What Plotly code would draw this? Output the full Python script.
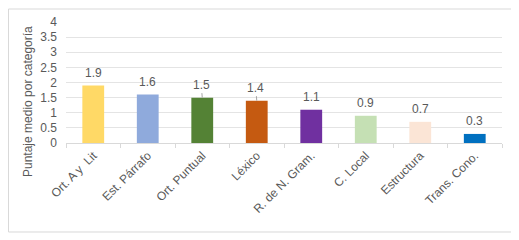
import plotly.graph_objects as go

categories = ["Ort. A y  Lit", "Est. Párrafo", "Ort. Puntual", "Léxico",
              "R. de N. Gram.", "C. Local", "Estructura", "Trans. Cono."]
values = [1.9, 1.6, 1.5, 1.4, 1.1, 0.9, 0.7, 0.3]
leader = [False, False, True, True, False, False, False, False]
colors = ["#FFD966", "#8FAADC", "#548235", "#C55A11",
          "#7030A0", "#C5E0B4", "#FBE5D6", "#0070C0"]
yticks = [0, 0.5, 1, 1.5, 2, 2.5, 3, 3.5, 4]

font = "Liberation Sans, Arial, sans-serif"
gray = "#595959"

fig = go.Figure(go.Bar(
    x=categories, y=values, marker=dict(color=colors, line=dict(width=0)),
    hoverinfo="x+y",
))

annotations = []
for c, v, ld in zip(categories, values, leader):
    if ld:
        annotations.append(dict(x=c, y=v, xref="x", yref="y", text=f"{v}",
                                showarrow=True, arrowhead=0, arrowwidth=1, arrowcolor="#A6A6A6",
                                ax=-1, ay=-13, standoff=0,
                                font=dict(family=font, size=12, color=gray)))
    else:
        annotations.append(dict(x=c, y=v, xref="x", yref="y", text=f"{v}",
                                showarrow=False, yanchor="middle", yshift=13,
                                font=dict(family=font, size=12, color=gray)))
annotations.append(dict(x=-0.0872, y=0.347, xref="paper", yref="paper",
                        text="Puntaje medio por categoría", textangle=-90, showarrow=False,
                        xanchor="center", yanchor="middle",
                        font=dict(family=font, size=12, color=gray)))

fig.update_layout(
    width=511, height=232,
    margin=dict(l=58, r=17, t=14, b=97, autoexpand=False),
    paper_bgcolor="white", plot_bgcolor="white",
    bargap=0.6, showlegend=False,
    font=dict(family=font, color=gray),
    annotations=annotations,
    shapes=[dict(type="rect", xref="paper", yref="paper",
                 x0=-0.1319, x1=1.0252, y0=-0.7355, y1=1.1074,
                 line=dict(color="#D9D9D9", width=1), fillcolor="rgba(0,0,0,0)", layer="above")],
)
fig.update_xaxes(
    tickangle=-45, tickfont=dict(family=font, size=12, color=gray),
    showline=True, linecolor="#D9D9D9", linewidth=1,
    ticks="outside", tickson="boundaries", ticklen=4, tickcolor="#D9D9D9",
    showgrid=False, automargin=False,
)
fig.update_yaxes(
    range=[0, 4], tickvals=yticks, ticktext=[f"{t:g}" for t in yticks],
    showticklabels=True,
    tickfont=dict(family=font, size=12, color=gray), ticklabelstandoff=8,
    gridcolor="#E4E4E4", gridwidth=1, zeroline=False, showline=False, automargin=False,
)

fig.write_html("out.html")
